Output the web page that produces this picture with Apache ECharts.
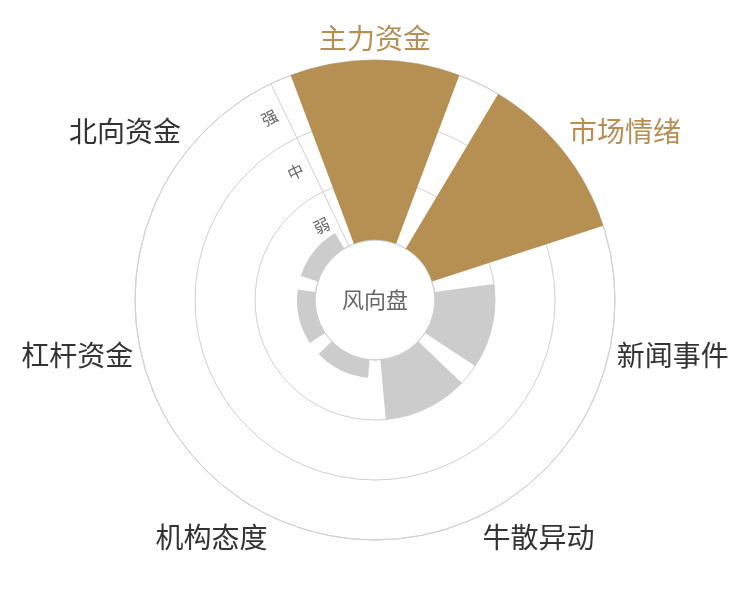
<!DOCTYPE html>
<html>
<head>
<meta charset="utf-8">
<script src="https://cdn.jsdelivr.net/npm/echarts@6/dist/echarts.min.js"></script>
<style>html,body{margin:0;padding:0;background:#fff;}#c{width:750px;height:600px;}</style>
</head>
<body>
<div id="c"></div>
<script>
var categories = ['主力资金', '市场情绪', '新闻事件', '牛散异动', '机构态度', '杠杆资金', '北向资金'];
var values = [3, 3, 1, 1, 0.3, 0.3, 0.3];
var levelLabels = ['弱', '中', '强'];
var highlighted = ['主力资金', '市场情绪'];
var centerText = '风向盘';

var GOLD = '#b68f52';
var GREY = '#cccccc';
var LINE = '#d0d0d0';
var FONT = '"Noto Sans CJK SC", "Noto Sans", sans-serif';
var startAngle = 90 + 360 / categories.length / 2;

var chart = echarts.init(document.getElementById('c'));
chart.setOption({
  backgroundColor: '#fff',
  textStyle: { fontFamily: FONT },
  polar: [
    { center: ['50%', '50%'], radius: ['20%', '80%'] },
    { center: ['50%', '50%'], radius: ['20%', '80%'] }
  ],
  angleAxis: [
    {
      polarIndex: 0,
      type: 'category',
      data: categories,
      startAngle: startAngle,
      axisLine: { show: true, lineStyle: { color: LINE, width: 1 } },
      axisTick: { show: false },
      splitLine: { show: false },
      axisLabel: {
        margin: 8,
        fontSize: 28,
        fontFamily: FONT,
        color: '#333',
        formatter: function (v) { return highlighted.indexOf(v) >= 0 ? '{g|' + v + '}' : '{d|' + v + '}'; },
        rich: {
          g: { color: GOLD, fontSize: 28, fontFamily: FONT },
          d: { color: '#333', fontSize: 28, fontFamily: FONT }
        }
      },
      z: 1
    },
    {
      polarIndex: 1,
      type: 'value',
      min: 0,
      max: 360,
      startAngle: startAngle,
      show: false
    }
  ],
  radiusAxis: [
    {
      polarIndex: 0,
      type: 'value',
      min: 0,
      max: 3,
      interval: 1,
      axisLine: { show: false },
      axisTick: { show: false },
      axisLabel: { show: false },
      splitLine: { show: true, lineStyle: { color: LINE, width: 1 } },
      z: 1
    },
    {
      polarIndex: 1,
      type: 'category',
      data: levelLabels,
      axisLine: { show: true, lineStyle: { color: LINE, width: 1 } },
      axisTick: { show: false },
      splitLine: { show: false },
      axisLabel: { rotate: startAngle - 90, fontSize: 16, color: '#666', fontFamily: FONT, margin: 8 },
      z: 1
    }
  ],
  series: [{
    type: 'bar',
    coordinateSystem: 'polar',
    polarIndex: 0,
    barCategoryGap: '20%',
    data: values.map(function (v, i) {
      return { value: v, itemStyle: { color: highlighted.indexOf(categories[i]) >= 0 ? GOLD : GREY } };
    }),
    z: 3,
    animation: false
  }],
  graphic: [{
    type: 'text',
    left: 'center',
    top: 'middle',
    style: { text: centerText, fontSize: 22, fill: '#666', fontFamily: FONT }
  }],
  animation: false
});
</script>
</body>
</html>
